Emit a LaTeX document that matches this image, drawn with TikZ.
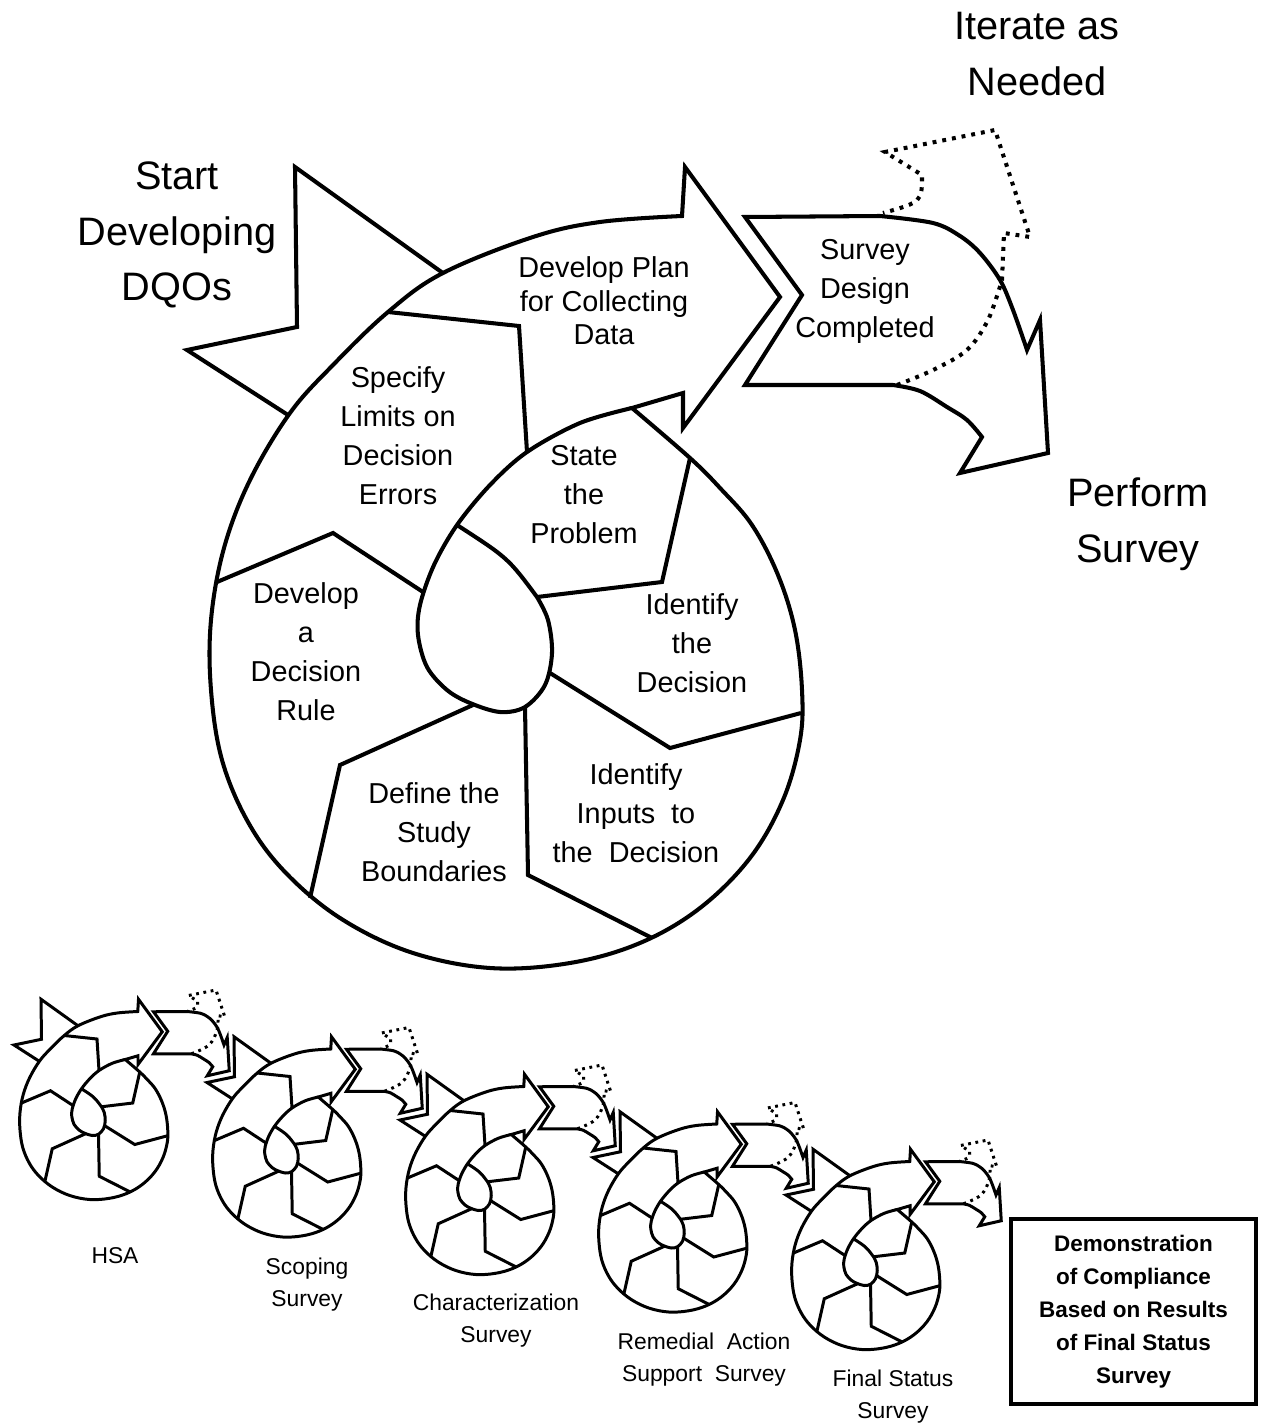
\documentclass[tikz,border=0pt]{standalone}
\usepackage{fontspec}
\setmainfont{Liberation Sans}
\begin{document}
\begin{tikzpicture}[x=0.1mm,y=-0.1mm,
  ln/.style={line width=1.15pt},
  dotln/.style={line width=1.15pt, dash pattern=on 1.1pt off 1.7pt},
  bigtxt/.style={align=center, inner sep=0pt, font=\fontsize{11.3}{15.9}\selectfont},
  midtxt/.style={align=center, inner sep=0pt, font=\fontsize{8.2}{11.1}\selectfont},
  plantxt/.style={align=center, inner sep=0pt, font=\fontsize{8.2}{9.5}\selectfont},
  smalltxt/.style={align=center, inner sep=0pt, font=\fontsize{6.5}{9.1}\selectfont},
  boxtxt/.style={align=center, draw, line width=1.4pt, minimum width=24.5mm, minimum height=18.5mm,
    inner sep=0pt, font=\bfseries\fontsize{6.4}{9.4}\selectfont}]

\useasboundingbox (0,0) rectangle (1264,1425);

% One DQO cycle: start arrow, spiral of seven steps, survey arrow and the dotted iteration arrow
\newcommand\dqocycle{%
  % start arrow (its head is hidden under the spiral)
  \draw[ln, fill=white] (295,167) -- (500,314) -- (420,500) -- (288,415) -- (187,350) -- (297,327) -- cycle;
  % outer outline of the spiral ending in the big arrow
  \draw[ln, fill=white] plot[smooth, tension=0.6] coordinates {(682,216) (600,222) (533,237) (443,273)
      (388,312) (333,365) (290,413) (250,480) (224,548) (211,620) (211,690) (222,760) (248,822)
      (285,872) (340,918) (410,952) (490,968) (570,963) (640,943) (700,908) (750,858) (783,800)
      (800,740) (802,690) (795,630) (778,575) (752,525) (720,488) (690,458) (632,408)}
    -- (683,393) -- (683,428) -- (780,297) -- (685,167) -- cycle;
  % inner turn of the spiral closing into the central drop
  \draw[ln] plot[smooth, tension=0.55] coordinates {(632,408) (580,423) (527,452) (490,485) (457,525)
      (434,565) (420,605) (418,635) (427,667) (447,690) (470,703) (500,712) (525,707) (545,685)
      (552,653) (548,620) (537,597)} .. controls (508,558) .. (457,525);
  % step dividers
  \draw[ln] (388,312) -- (519,326) -- (527,452);
  \draw[ln] (217,582) -- (333,533) -- (423,592);
  \draw[ln] (473,705) -- (340,765) -- (310,898);
  \draw[ln] (525,707) -- (528,875) -- (652,938);
  \draw[ln] (550,673) -- (670,748) -- (801,713);
  \draw[ln] (690,458) -- (662,582) -- (537,597);
  % survey design arrow
  \draw[ln, fill=white] (745,217) -- plot[smooth, tension=0.55] coordinates {(880,216) (933,223)
      (960,236) (980,253) (1000,280) (1013,310) (1027,350)}
    -- (1040,320) -- (1048,453) -- (960,473)
    -- plot[smooth, tension=0.55] coordinates {(982,437) (967,420) (947,407) (920,391) (893,385)}
    -- (745,385) -- (802,295) -- cycle;
  % dotted arrow turning back
  \draw[dotln] plot[smooth, tension=0.55] coordinates {(897,385) (933,370) (967,350) (988,320) (1002,280)}
    -- (1004,233) -- (1030,237) -- (995,130) -- (885,152) -- (922,175)
    .. controls (922,202) .. (883,213);
}

\dqocycle

% labels of the large cycle
\node[bigtxt] (start) at (177,235) {Start\\Developing\\DQOs};
\node[bigtxt] (iter) at (1037,54) {Iterate as\\Needed};
\node[bigtxt] (perf) at (1138,524) {Perform\\Survey};
\node[plantxt] (plan) at (604,301) {Develop Plan\\for Collecting\\Data};
\node[midtxt] (design) at (865,291) {Survey\\Design\\Completed};
\node[midtxt] (limits) at (398,436) {Specify\\Limits on\\Decision\\Errors};
\node[midtxt] (problem) at (584,495) {State\\the\\Problem};
\node[midtxt] (decision) at (692,643) {Identify\\the\\Decision};
\node[midtxt] (rule) at (306,652) {Develop\\a\\Decision\\Rule};
\node[midtxt] (bound) at (434,832) {Define the\\Study\\Boundaries};
\node[midtxt] (inputs) at (636,813) {Identify\\Inputs\ \ to\\the\ \ Decision};

% the chain of surveys
\foreach \k in {0,...,4}{
  \begin{scope}[shift={({-32.75+193*\k},{957.5+37.5*\k})}, scale=0.25,
      ln/.style={line width=0.85pt},
      dotln/.style={line width=0.85pt, dash pattern=on 0.8pt off 1.3pt}]
    \dqocycle
  \end{scope}
}

\node[smalltxt] (hsa) at (115,1256) {HSA};
\node[smalltxt] (scop) at (307,1285) {Scoping\\Survey};
\node[smalltxt] (char) at (496,1321) {Characterization\\Survey};
\node[smalltxt] (rem) at (704,1360) {Remedial\ \ Action\\Support\ \ Survey};
\node[smalltxt] (fss) at (893,1397) {Final Status\\Survey};

\node[boxtxt] (demo) at (1133.5,1311.5) {Demonstration\\of Compliance\\Based on Results\\of Final Status\\Survey};

\end{tikzpicture}
\end{document}
